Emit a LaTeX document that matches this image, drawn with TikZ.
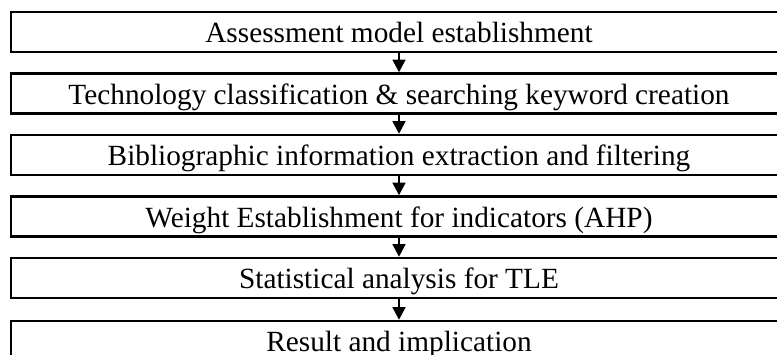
\documentclass[tikz,border=0pt]{standalone}
\usepackage{fontspec}
\setmainfont{Liberation Serif}
\usetikzlibrary{arrows.meta}

\begin{document}
\begin{tikzpicture}[x=1pt,y=-1pt]
  % Styles
    \tikzstyle{stage}=[draw,line width=2.6pt,minimum width=776pt,minimum height=40pt,
      inner sep=0pt,text height=22pt,text depth=0pt,font=\fontsize{29.3}{32}\selectfont]
    \tikzstyle{flow}=[line width=1.4pt,-{Triangle[width=13pt,length=12.5pt]}]

  % The graphic
    \useasboundingbox (0,0) rectangle (777,355);
    \clip (0,0) rectangle (777,355);

    \node[stage] (assess)  at (399,32)    {Assessment model establishment};
    \node[stage] (keyword) at (399,93.5)  {Technology classification \& searching keyword creation};
    \node[stage] (biblio)  at (399,155)   {Bibliographic information extraction and filtering};
    \node[stage] (weight)  at (399,216.5) {Weight Establishment for indicators (AHP)};
    \node[stage] (stat)    at (399,278)   {Statistical analysis for TLE};
    \node[stage] (result)  at (399,341)   {Result and implication};

    \foreach \a/\b in {assess/keyword,keyword/biblio,biblio/weight,weight/stat,stat/result}
      \draw[flow] (\a.south) -- (\b.north);
\end{tikzpicture}
\end{document}
